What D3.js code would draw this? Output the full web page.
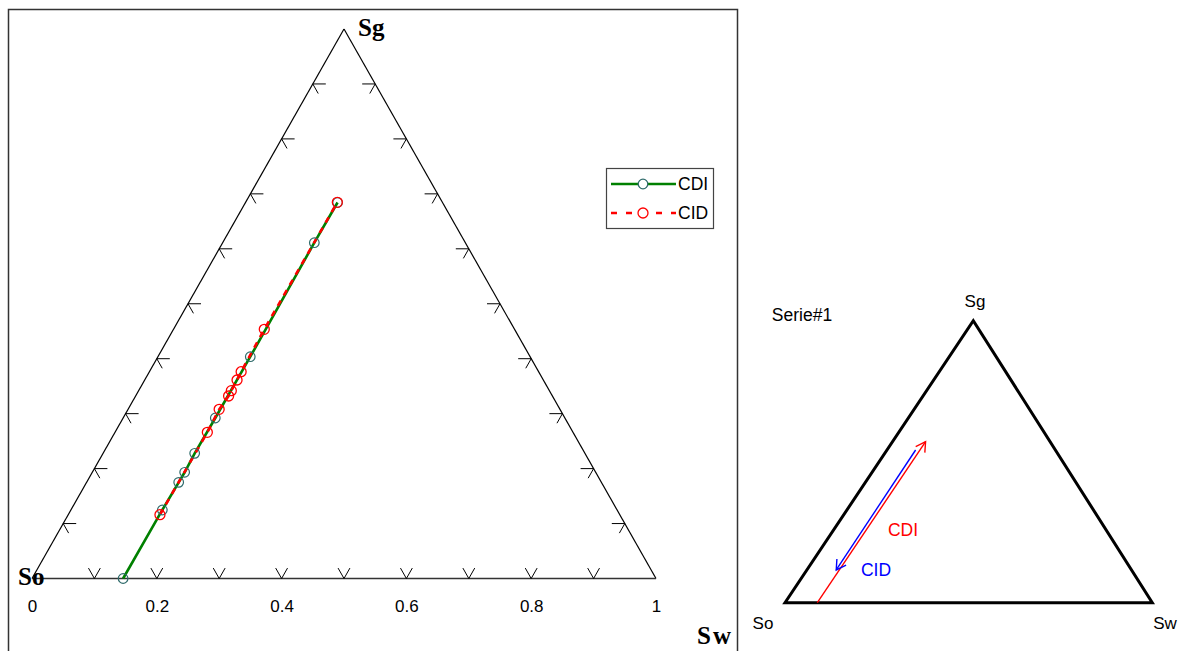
<!DOCTYPE html>
<html><head><meta charset="utf-8">
<script src="https://cdn.jsdelivr.net/npm/d3@7"></script>
<style>body{margin:0;background:#fff;} svg{display:block;}</style>
</head><body>
<svg id="c" width="1181" height="651"></svg>
<script>
// ---- data (left ternary chart) ----
const seriesNames = ["CDI", "CID"];
const cdiSw = [0.146, 0.1465, 0.1476, 0.148, 0.1468, 0.1477, 0.148, 0.1469, 0.1475];
const cdiSg = [0.000, 0.1247, 0.175, 0.1933, 0.2278, 0.2921, 0.4036, 0.6111, 0.6843];
const cidSw = [0.147, 0.148, 0.146, 0.149, 0.1485, 0.148, 0.147, 0.1455, 0.147];
const cidSg = [0.1161, 0.266, 0.3079, 0.3321, 0.3418, 0.3612, 0.3763, 0.4535, 0.6846];
const tickVals = [0.1, 0.2, 0.3, 0.4, 0.5, 0.6, 0.7, 0.8, 0.9];
const labelVals = [0, 0.2, 0.4, 0.6, 0.8, 1];
const cornerLabels = ["So", "Sw", "Sg"];
// ---- data (right schematic) ----
const arrowNames = ["CDI", "CID"];
const arrowCdiSw = [0.088, 0.090];
const arrowCdiSg = [0.000, 0.571];
const arrowCidSw = [0.078, 0.080];
const arrowCidSg = [0.5415, 0.116];
const panelTitle = "Serie#1";

const svg = d3.select("#c");

// ================= LEFT CHART =================
svg.append("rect").attr("x", 8.5).attr("y", 9.5).attr("width", 729).attr("height", 700)
  .attr("fill", "none").attr("stroke", "#333").attr("stroke-width", 1.5);

const xs = d3.scaleLinear().domain([0, 1]).range([32, 656]);
const ys = d3.scaleLinear().domain([0, 1]).range([578.5, 29]);
const pos = (sw, sg) => [xs(sw + sg * 0.5), ys(sg)];

const gL = svg.append("g");
const pSo = pos(0, 0), pSw = pos(1, 0), pSg = pos(0, 1);
gL.append("path").attr("d", d3.line()([pSg, pSo]))
  .attr("stroke", "#000").attr("stroke-width", 1.2).attr("fill", "none");
gL.append("path").attr("d", d3.line()([pSg, pSw]))
  .attr("stroke", "#000").attr("stroke-width", 1.2).attr("fill", "none");
gL.append("path").attr("d", d3.line()([pSo, pSw]))
  .attr("stroke", "#333").attr("stroke-width", 1.6).attr("fill", "none");

function unit(a, b) { const dx = b[0] - a[0], dy = b[1] - a[1]; const l = Math.hypot(dx, dy); return [dx / l, dy / l]; }
const dl = unit(pSg, pSo);
const dr = unit(pSg, pSw);
const LH = 13, LD = 11, LV = 12;
const tickPaths = [];
tickVals.forEach(v => {
  const b = pos(v, 0);
  tickPaths.push([[b[0] - dr[0] * LV, b[1] - dr[1] * LV], b, [b[0] - dl[0] * LV, b[1] - dl[1] * LV]]);
  const l = pos(0, v);
  tickPaths.push([[l[0] + LH, l[1]], l, [l[0] + dr[0] * LD, l[1] + dr[1] * LD]]);
  const r = pos(1 - v, v);
  tickPaths.push([[r[0] - LH, r[1]], r, [r[0] + dl[0] * LD, r[1] + dl[1] * LD]]);
});
gL.selectAll("path.tick").data(tickPaths).join("path").attr("class", "tick")
  .attr("d", d3.line()).attr("fill", "none").attr("stroke", "#000").attr("stroke-width", 1);

const ax = gL.append("g").attr("transform", `translate(0,${ys(0) + 21})`)
  .call(d3.axisBottom(xs).tickValues(labelVals).tickFormat(d3.format("~g")).tickSize(0).tickPadding(0));
ax.select(".domain").remove();
ax.attr("font-size", 17).attr("font-family", "Liberation Sans, Arial, sans-serif");
ax.selectAll("text").attr("font-size", 17).attr("fill", "#000");

const lblFont = "Liberation Serif, Times New Roman, serif";
gL.append("text").text(cornerLabels[0]).attr("x", 18).attr("y", 585)
  .attr("font-family", lblFont).attr("font-weight", "bold").attr("font-size", 25);
gL.append("text").text(cornerLabels[1]).attr("x", 697).attr("y", 644).attr("letter-spacing", 2)
  .attr("font-family", lblFont).attr("font-weight", "bold").attr("font-size", 25);
gL.append("text").text(cornerLabels[2]).attr("x", 358).attr("y", 36)
  .attr("font-family", lblFont).attr("font-weight", "bold").attr("font-size", 25);

const cdiPts = cdiSw.map((s, i) => pos(s, cdiSg[i]));
const cidPts = cidSw.map((s, i) => pos(s, cidSg[i]));
const green = "#008000", teal = "#2f6b6b", red = "#ff0000";
gL.append("path").attr("d", d3.line()(cdiPts)).attr("fill", "none").attr("stroke", green).attr("stroke-width", 2.6);
gL.append("path").attr("d", d3.line()(cidPts)).attr("fill", "none").attr("stroke", red).attr("stroke-width", 2.6)
  .attr("stroke-dasharray", "6,6");
gL.selectAll("circle.cdi").data(cdiPts).join("circle").attr("class", "cdi")
  .attr("cx", d => d[0]).attr("cy", d => d[1]).attr("r", 4.8)
  .attr("fill", "none").attr("stroke", teal).attr("stroke-width", 1.2);
gL.selectAll("circle.cid").data(cidPts).join("circle").attr("class", "cid")
  .attr("cx", d => d[0]).attr("cy", d => d[1]).attr("r", 5)
  .attr("fill", "none").attr("stroke", red).attr("stroke-width", 1.3);

const lg = gL.append("g");
lg.append("rect").attr("x", 606.5).attr("y", 168.5).attr("width", 107).attr("height", 60)
  .attr("fill", "#fff").attr("stroke", "#444").attr("stroke-width", 1.2);
const legItems = [
  { name: seriesNames[0], y: 184, stroke: green, mk: teal, dash: null, r: 4.8 },
  { name: seriesNames[1], y: 213, stroke: red, mk: red, dash: "6,9", r: 5 }
];
legItems.forEach(it => {
  lg.append("line").attr("x1", 611).attr("x2", 676).attr("y1", it.y).attr("y2", it.y)
    .attr("stroke", it.stroke).attr("stroke-width", 2.6).attr("stroke-dasharray", it.dash);
  lg.append("circle").attr("cx", 643).attr("cy", it.y).attr("r", it.r)
    .attr("fill", "#fff").attr("stroke", it.mk).attr("stroke-width", 1.3);
  lg.append("text").text(it.name).attr("x", 678).attr("y", it.y + 6)
    .attr("font-family", "Liberation Sans, Arial, sans-serif").attr("font-size", 17.5);
});

// ================= RIGHT SCHEMATIC =================
const x2 = d3.scaleLinear().domain([0, 1]).range([785, 1152.3]);
const y2 = d3.scaleLinear().domain([0, 1]).range([602.7, 320.7]);
const apexFrac = (973.3 - 785) / (1152.3 - 785);
const pos2 = (sw, sg) => [x2(sw + sg * apexFrac), y2(sg)];
const gR = svg.append("g");
gR.append("path").attr("d", d3.line()([pos2(0, 0), pos2(1, 0), pos2(0, 1)]) + "Z")
  .attr("fill", "none").attr("stroke", "#000").attr("stroke-width", 3).attr("stroke-linejoin", "miter");

const sans = "Liberation Sans, Arial, sans-serif";
gR.append("text").text(cornerLabels[2]).attr("x", 975).attr("y", 307).attr("text-anchor", "middle")
  .attr("font-family", sans).attr("font-size", 17);
gR.append("text").text(cornerLabels[0]).attr("x", 763).attr("y", 629).attr("text-anchor", "middle")
  .attr("font-family", sans).attr("font-size", 17);
gR.append("text").text(cornerLabels[1]).attr("x", 1165).attr("y", 629).attr("text-anchor", "middle")
  .attr("font-family", sans).attr("font-size", 17);
gR.append("text").text(panelTitle).attr("x", 802).attr("y", 321).attr("text-anchor", "middle")
  .attr("font-family", sans).attr("font-size", 17.5);

function arrow(sw, sg, color) {
  const a = pos2(sw[0], sg[0]), b = pos2(sw[1], sg[1]);
  gR.append("path").attr("d", d3.line()([a, b])).attr("stroke", color).attr("stroke-width", 1.4).attr("fill", "none");
  const ang = Math.atan2(a[1] - b[1], a[0] - b[0]);
  const L = 11, t = 30 * Math.PI / 180;
  const p1 = [b[0] + L * Math.cos(ang + t), b[1] + L * Math.sin(ang + t)];
  const p2 = [b[0] + L * Math.cos(ang - t), b[1] + L * Math.sin(ang - t)];
  gR.append("path").attr("d", d3.line()([p1, b, p2])).attr("stroke", color).attr("stroke-width", 1.4).attr("fill", "none");
}
arrow(arrowCdiSw, arrowCdiSg, "#ff0000");
arrow(arrowCidSw, arrowCidSg, "#0000ff");
gR.append("text").text(arrowNames[0]).attr("x", 903).attr("y", 536).attr("text-anchor", "middle")
  .attr("font-family", sans).attr("font-size", 17.5).attr("fill", "#ff0000");
gR.append("text").text(arrowNames[1]).attr("x", 876).attr("y", 576).attr("text-anchor", "middle")
  .attr("font-family", sans).attr("font-size", 17.5).attr("fill", "#0000ff");
</script>
</body></html>
